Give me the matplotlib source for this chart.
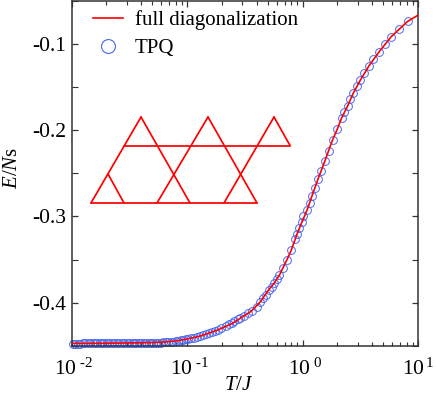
import matplotlib
matplotlib.use("Agg")
import matplotlib.pyplot as plt
from matplotlib.lines import Line2D
from matplotlib.ticker import FixedLocator, NullFormatter

plt.rcParams['font.family'] = ['Liberation Serif', 'DejaVu Serif']
plt.rcParams['mathtext.fontset'] = 'custom'
plt.rcParams['mathtext.rm'] = 'Liberation Serif'
plt.rcParams['mathtext.it'] = 'Liberation Serif:italic'
plt.rcParams['axes.unicode_minus'] = False

line_T = [0.0100, 0.0200, 0.0300, 0.0500, 0.0650, 0.0800, 0.1000, 0.1300, 0.1840, 0.2500,
          0.3000, 0.3580, 0.4320, 0.5000, 0.5700, 0.6310, 0.7300, 0.8000, 0.8960, 0.9850, 1.1000, 1.2100,
          1.3600, 1.5600, 1.8200, 2.0000, 2.1900, 2.4600, 2.7600, 3.1600, 3.7500, 4.5700,
          5.8500, 8.1600, 10.000]
line_E = [-0.4470, -0.4468, -0.4465, -0.4460, -0.4453, -0.4442, -0.4420, -0.4385, -0.4316, -0.4235,
          -0.4165, -0.4100, -0.3988, -0.3865, -0.3770, -0.3680, -0.3506, -0.3390, -0.3205, -0.3070, -0.2920, -0.2760,
          -0.2570, -0.2360, -0.2115, -0.1990, -0.1855, -0.1720, -0.1570, -0.1425, -0.1260, -0.1100,
          -0.0920, -0.0740, -0.0670]

tpq_T = [0.0103, 0.0108, 0.0113, 0.0119, 0.0125, 0.0131, 0.0138, 0.0145, 0.0152, 0.0159,
         0.0167, 0.0175, 0.0184, 0.0193, 0.0203, 0.0213, 0.0224, 0.0235, 0.0247, 0.0259,
         0.0272, 0.0286, 0.0300, 0.0315, 0.0331, 0.0348, 0.0365, 0.0383, 0.0402, 0.0422,
         0.0443, 0.0465, 0.0488, 0.0512, 0.0538, 0.0565, 0.0595, 0.0625, 0.0655, 0.0690,
         0.0725, 0.0760, 0.0800, 0.0840, 0.0885, 0.0930, 0.0980, 0.1030, 0.1090, 0.1160,
         0.1230, 0.1300, 0.1380, 0.1460, 0.1550, 0.1640, 0.1740, 0.1840, 0.1970, 0.2170,
         0.2300, 0.2440, 0.2570, 0.2750, 0.2900, 0.3090, 0.3350, 0.3630, 0.4000, 0.4320,
         0.4520, 0.4830, 0.5170, 0.5400, 0.5700, 0.6000, 0.6310, 0.6780, 0.7300, 0.8000,
         0.8670, 0.8960, 0.9400, 0.9850, 1.0200, 1.1000, 1.1600, 1.2100, 1.2800, 1.3600,
         1.4600, 1.5600, 1.6900, 1.8200, 2.0000, 2.1900, 2.3100, 2.4600, 2.6000, 2.7600,
         2.9500, 3.1600, 3.4400, 3.7500, 4.1100, 4.5700, 5.1300, 5.8500, 6.8200, 8.1600]
tpq_E = [-0.4472, -0.4472, -0.4472, -0.4472, -0.4471, -0.4471, -0.4471, -0.4471, -0.4470, -0.4470,
         -0.4470, -0.4470, -0.4469, -0.4469, -0.4469, -0.4469, -0.4468, -0.4468, -0.4468, -0.4468,
         -0.4467, -0.4467, -0.4467, -0.4466, -0.4466, -0.4466, -0.4465, -0.4465, -0.4465, -0.4464,
         -0.4464, -0.4463, -0.4463, -0.4462, -0.4462, -0.4461, -0.4460, -0.4458, -0.4456, -0.4454,
         -0.4451, -0.4448, -0.4444, -0.4440, -0.4435, -0.4430, -0.4424, -0.4418, -0.4410, -0.4402,
         -0.4393, -0.4385, -0.4373, -0.4362, -0.4350, -0.4338, -0.4325, -0.4312, -0.4290, -0.4265,
         -0.4247, -0.4230, -0.4210, -0.4193, -0.4175, -0.4155, -0.4123, -0.4095, -0.4045, -0.3988,
         -0.3950, -0.3910, -0.3850, -0.3815, -0.3770, -0.3725, -0.3680, -0.3600, -0.3506, -0.3390,
         -0.3260, -0.3205, -0.3135, -0.3070, -0.3000, -0.2920, -0.2850, -0.2760, -0.2670, -0.2570,
         -0.2470, -0.2360, -0.2245, -0.2115, -0.1990, -0.1855, -0.1790, -0.1720, -0.1645, -0.1570,
         -0.1495, -0.1425, -0.1340, -0.1260, -0.1180, -0.1100, -0.1006, -0.0920, -0.0835, -0.0740]

x_ticks = [0.01, 0.1, 1, 10]
x_labels = [r'$\mathregular{\,\,10^{\,\,\text{-2}}}$', r'$\mathregular{\,\,10^{\,\,\text{-1}}}$',
            r'$\mathregular{\,\,10^{\,\,0}}$', r'$\mathregular{10^{\,1}}$']
y_ticks = [-0.4, -0.3, -0.2, -0.1]
y_labels = ['-0.4', '-0.3', '-0.2', '-0.1']
y_minor = [-0.45, -0.35, -0.25, -0.15, -0.05]

# lattice sketch segments, in figure pixels
lattice_x = [[91, 141], [141, 190], [108, 124], [208, 157], [208, 257], [274, 224], [274, 290], [124, 290], [91, 257]]
lattice_y = [[203, 117], [117, 203], [174, 203], [117, 203], [117, 203], [117, 203], [117, 145.5], [145.5, 145.5], [203, 203]]

RED = '#ff0000'
BLUE = '#4a66ee'
DARK = '#333333'

fig = plt.figure(figsize=(4.36, 3.97), dpi=100)
W, H = 436, 397
ax = fig.add_axes([71.5 / W, 1 - 346 / H, (418 - 71.5) / W, 346 / H - 0.5 / H])

ax.plot(tpq_T, tpq_E, ls='none', marker='o', ms=5.6, mfc='none', mec=BLUE, mew=0.7, clip_on=False, zorder=2)
ax.plot(line_T, line_E, color=RED, lw=1.2, zorder=3)

ax.set_xscale('log')
ax.set_xlim(0.01, 10)
ax.set_ylim(-0.45, -0.05)
ax.set_xticks(x_ticks)
ax.set_xticklabels(x_labels)
ax.xaxis.set_minor_locator(FixedLocator([m * 10.0 ** e for e in (-2, -1, 0) for m in range(2, 10)]))
ax.xaxis.set_minor_formatter(NullFormatter())
ax.set_yticks(y_ticks)
ax.set_yticklabels(y_labels)
ax.set_yticks(y_minor, minor=True)

ax.tick_params(which='major', direction='in', top=True, right=True, length=4.5, width=0.9, color=DARK, labelsize=15.5)
ax.tick_params(which='minor', direction='in', top=True, right=True, length=2.6, width=0.8, color=DARK)
ax.tick_params(axis='y', which='minor', length=4)
ax.tick_params(axis='x', which='major', pad=9)
ax.tick_params(axis='y', which='major', pad=4)
for s in ax.spines.values():
    s.set_color(DARK)
    s.set_linewidth(1.1)

ax.set_xlabel(r'$\mathit{T/J}$', fontsize=15)
ax.xaxis.set_label_coords((239 - 71.5) / 346.5, -30 / 346, transform=ax.transAxes)
ax.set_ylabel(r'$\mathit{E/N}\mathregular{s}$', fontsize=15)
ax.yaxis.set_label_coords(-50 / 346.5, (346 - 168) / 346, transform=ax.transAxes)

handles = [Line2D([], [], color=RED, lw=1.2),
           Line2D([], [], ls='none', marker='o', ms=10, mfc='none', mec=BLUE, mew=0.8)]
ax.legend(handles, ['full diagonalization', 'TPQ'], loc='upper left', bbox_to_anchor=(0.062, 0.972),
          frameon=False, fontsize=15, handlelength=1.45, handletextpad=0.55, labelspacing=0.4,
          borderpad=0, borderaxespad=0)

ov = fig.add_axes([0, 0, 1, 1], facecolor='none')
ov.set_xlim(0, W)
ov.set_ylim(H, 0)
ov.axis('off')
for xs, ys in zip(lattice_x, lattice_y):
    ov.plot(xs, ys, color=RED, lw=1.25, solid_capstyle='round')

fig.savefig('out.png', dpi=100)
